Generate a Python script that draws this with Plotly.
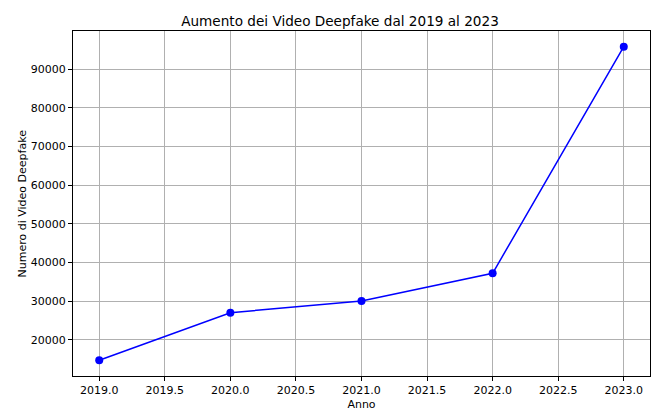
import plotly.graph_objects as go

anni = [2019, 2020, 2021, 2022, 2023]
video_deepfake = [14678, 27000, 30000, 37200, 95820]
x_ticks = [2019.0, 2019.5, 2020.0, 2020.5, 2021.0, 2021.5, 2022.0, 2022.5, 2023.0]
y_ticks = [20000, 30000, 40000, 50000, 60000, 70000, 80000, 90000]

fig = go.Figure()
fig.add_trace(go.Scatter(
    x=anni, y=video_deepfake, mode="lines+markers",
    line=dict(color="blue", width=1.5),
    marker=dict(color="blue", size=8),
))

axis_common = dict(
    showgrid=True, gridcolor="#b0b0b0", gridwidth=0.8,
    showline=True, linecolor="black", linewidth=1, mirror=True,
    ticks="outside", ticklen=4, tickcolor="black", automargin=False,
    zeroline=False, tickfont=dict(size=11, color="black"),
)

fig.update_layout(
    width=664, height=416,
    margin=dict(l=65, r=22, t=23, b=48),
    paper_bgcolor="white", plot_bgcolor="white",
    font=dict(family="DejaVu Sans", color="black"),
    title=dict(text="Aumento dei Video Deepfake dal 2019 al 2023", x=0.5, xanchor="center",
               y=0.969, yanchor="middle", font=dict(size=13.6)),
    showlegend=False,
    xaxis=dict(axis_common, range=[2018.8, 2023.2], tickvals=x_ticks,
               ticktext=[f"{t:.1f}" for t in x_ticks],
               title=dict(text="Anno", font=dict(size=11), standoff=4)),
    yaxis=dict(axis_common, range=[10621, 99877], tickvals=y_ticks,
               ticktext=[str(t) for t in y_ticks]),
)

# titolo asse y come annotazione, per piazzarlo dove sta nell'originale
fig.add_annotation(text="Numero di Video Deepfake", textangle=-90,
                   xref="paper", yref="paper", x=-0.0867, y=0.5,
                   xanchor="center", yanchor="middle", showarrow=False,
                   font=dict(size=11))

fig.write_html("out.html")
